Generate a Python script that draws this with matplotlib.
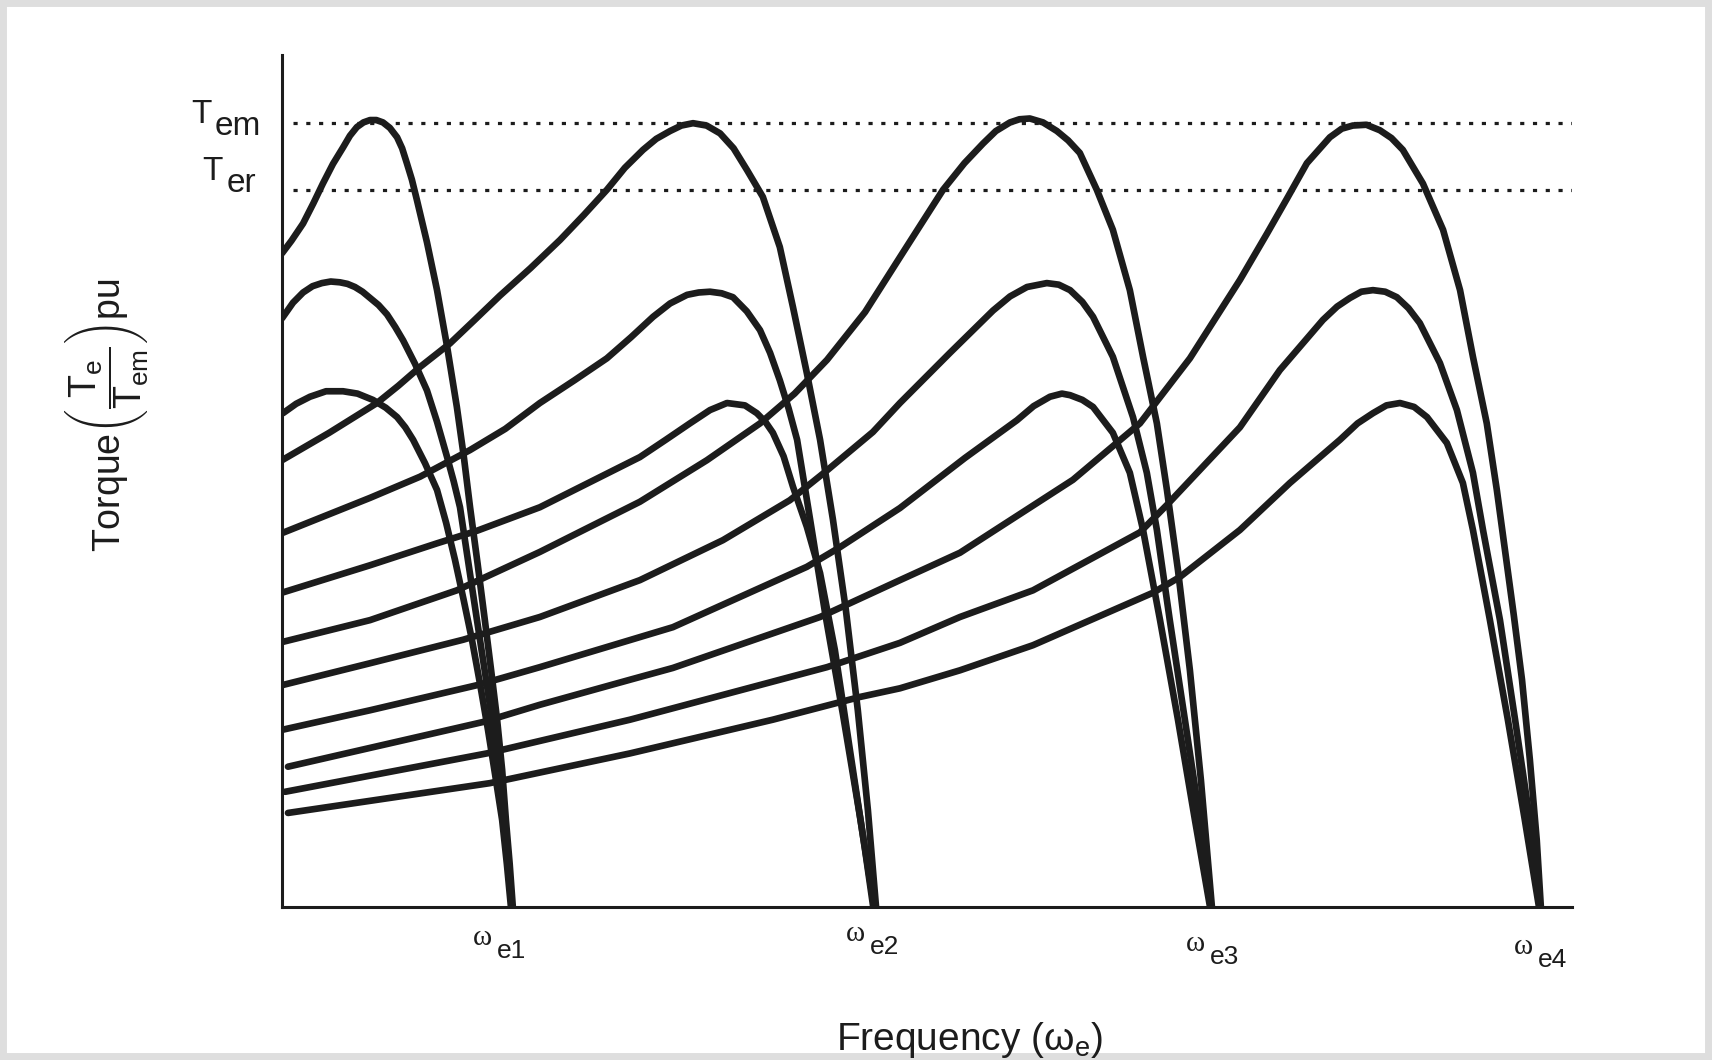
import matplotlib.pyplot as plt
from matplotlib.patches import Rectangle

plt.rcParams['font.family'] = ['Liberation Sans', 'DejaVu Sans']
plt.rcParams['mathtext.fontset'] = 'custom'
plt.rcParams['mathtext.rm'] = 'Liberation Sans'
plt.rcParams['mathtext.it'] = 'Liberation Sans:italic'

# synchronous frequencies (arbitrary frequency units) and torque levels in pu of Tem
omega_e = [0.734, 1.886, 2.957, 4.0]
omega_labels = ['e1', 'e2', 'e3', 'e4']
T_em = 1.0
T_er = 0.915

# family 1 (omega_e1): three curves, highest to lowest
w1_a = [0.0, 0.030, 0.067, 0.100, 0.130, 0.162, 0.194, 0.216, 0.238, 0.259, 0.280, 0.300, 0.321, 0.343, 0.366, 0.382,
        0.397, 0.413, 0.429, 0.461, 0.493, 0.525, 0.556, 0.578, 0.598, 0.622, 0.645, 0.665, 0.684, 0.700, 0.712, 0.724, 0.734]
t1_a = [0.834, 0.850, 0.872, 0.898, 0.923, 0.948, 0.969, 0.984, 0.995, 1.001, 1.004, 1.004, 1.001, 0.994, 0.982, 0.968,
        0.949, 0.928, 0.902, 0.848, 0.787, 0.715, 0.638, 0.575, 0.510, 0.438, 0.366, 0.302, 0.239, 0.175, 0.111, 0.055, 0.0]
w1_b = [0.0, 0.035, 0.067, 0.097, 0.127, 0.155, 0.184, 0.208, 0.232, 0.256, 0.280, 0.307, 0.334, 0.360, 0.385, 0.423,
        0.461, 0.493, 0.525, 0.546, 0.566, 0.593, 0.620, 0.644, 0.668, 0.688, 0.706, 0.720, 0.731]
t1_b = [0.751, 0.771, 0.784, 0.792, 0.796, 0.798, 0.797, 0.795, 0.791, 0.785, 0.777, 0.768, 0.756, 0.740, 0.723, 0.693,
        0.659, 0.619, 0.574, 0.543, 0.510, 0.438, 0.366, 0.303, 0.239, 0.175, 0.111, 0.055, 0.0]
w1_c = [0.003, 0.045, 0.089, 0.140, 0.194, 0.240, 0.289, 0.330, 0.366, 0.392, 0.417, 0.455, 0.493, 0.522, 0.550, 0.577,
        0.604, 0.630, 0.655, 0.678, 0.700, 0.715, 0.728]
t1_c = [0.630, 0.642, 0.651, 0.658, 0.658, 0.655, 0.647, 0.637, 0.625, 0.612, 0.596, 0.566, 0.532, 0.490, 0.443, 0.393,
        0.341, 0.284, 0.226, 0.168, 0.111, 0.055, 0.0]

# family 2 (omega_e2)
w2_a = [0.0, 0.150, 0.302, 0.370, 0.439, 0.534, 0.610, 0.693, 0.790, 0.884, 0.960, 1.033, 1.090, 1.148, 1.190, 1.234,
        1.270, 1.307, 1.350, 1.393, 1.436, 1.479, 1.529, 1.583, 1.625, 1.669, 1.711, 1.752, 1.793, 1.831, 1.863, 1.889]
t2_a = [0.570, 0.605, 0.643, 0.665, 0.689, 0.719, 0.748, 0.780, 0.815, 0.851, 0.883, 0.915, 0.943, 0.966, 0.980, 0.990,
        0.997, 1.0, 0.997, 0.987, 0.968, 0.940, 0.906, 0.842, 0.765, 0.681, 0.596, 0.494, 0.379, 0.251, 0.124, 0.0]
w2_b = [0.0, 0.280, 0.439, 0.598, 0.710, 0.820, 0.930, 1.033, 1.110, 1.180, 1.234, 1.288, 1.325, 1.361, 1.398, 1.434,
        1.478, 1.520, 1.552, 1.583, 1.611, 1.638, 1.679, 1.727, 1.784, 1.838, 1.883]
t2_b = [0.477, 0.522, 0.549, 0.583, 0.610, 0.643, 0.672, 0.700, 0.727, 0.753, 0.770, 0.781, 0.784, 0.785, 0.783, 0.778,
        0.760, 0.736, 0.707, 0.672, 0.636, 0.596, 0.495, 0.375, 0.245, 0.115, 0.0]
w2_c = [0.0, 0.280, 0.493, 0.620, 0.820, 0.979, 1.138, 1.220, 1.297, 1.361, 1.415, 1.472, 1.510, 1.537, 1.561, 1.595,
        1.625, 1.669, 1.711, 1.758, 1.806, 1.854, 1.880]
t2_c = [0.401, 0.436, 0.464, 0.480, 0.510, 0.542, 0.574, 0.596, 0.617, 0.634, 0.643, 0.640, 0.630, 0.619, 0.605, 0.575,
        0.536, 0.485, 0.426, 0.328, 0.200, 0.073, 0.0]

# family 3 (omega_e3)
w3_a = [0.0, 0.280, 0.556, 0.820, 1.138, 1.351, 1.520, 1.630, 1.733, 1.854, 1.965, 2.035, 2.102, 2.170, 2.229, 2.270,
        2.315, 2.345, 2.378, 2.420, 2.464, 2.500, 2.537, 2.591, 2.642, 2.696, 2.738, 2.782, 2.814, 2.849, 2.887, 2.922, 2.957]
t3_a = [0.338, 0.366, 0.404, 0.453, 0.517, 0.570, 0.617, 0.655, 0.698, 0.759, 0.829, 0.873, 0.915, 0.949, 0.974, 0.990,
        1.001, 1.005, 1.006, 1.001, 0.990, 0.978, 0.962, 0.915, 0.864, 0.787, 0.702, 0.617, 0.532, 0.430, 0.302, 0.162, 0.0]
w3_b = [0.0, 0.280, 0.576, 0.820, 1.138, 1.402, 1.615, 1.733, 1.879, 1.965, 2.124, 2.261, 2.315, 2.369, 2.432, 2.470,
        2.506, 2.545, 2.579, 2.642, 2.706, 2.750, 2.782, 2.823, 2.871, 2.919, 2.954]
t3_b = [0.283, 0.311, 0.341, 0.370, 0.417, 0.468, 0.519, 0.557, 0.606, 0.643, 0.707, 0.761, 0.779, 0.791, 0.796, 0.794,
        0.787, 0.772, 0.753, 0.702, 0.625, 0.554, 0.481, 0.366, 0.239, 0.111, 0.0]
w3_c = [0.0, 0.280, 0.620, 0.820, 1.243, 1.669, 1.774, 1.965, 2.172, 2.337, 2.390, 2.442, 2.480, 2.506, 2.545, 2.579,
        2.642, 2.696, 2.738, 2.792, 2.849, 2.903, 2.951]
t3_c = [0.226, 0.251, 0.283, 0.306, 0.357, 0.434, 0.459, 0.509, 0.573, 0.621, 0.639, 0.651, 0.655, 0.653, 0.647, 0.638,
        0.605, 0.554, 0.481, 0.366, 0.239, 0.111, 0.0]

# family 4 (omega_e4)
w4_a = [0.019, 0.639, 0.820, 1.107, 1.243, 1.711, 1.965, 2.156, 2.515, 2.728, 2.887, 3.046, 3.132, 3.196, 3.259, 3.332,
        3.370, 3.405, 3.448, 3.491, 3.528, 3.564, 3.628, 3.692, 3.746, 3.787, 3.831, 3.863, 3.889, 3.917, 3.943, 3.968,
        3.990, 4.003]
t4_a = [0.179, 0.236, 0.258, 0.290, 0.305, 0.370, 0.417, 0.452, 0.545, 0.617, 0.700, 0.800, 0.859, 0.904, 0.949, 0.982,
        0.993, 0.997, 0.998, 0.991, 0.981, 0.966, 0.923, 0.864, 0.787, 0.702, 0.617, 0.532, 0.455, 0.372, 0.290, 0.188,
        0.085, 0.0]
w4_b = [0.010, 0.652, 1.107, 1.733, 1.965, 2.156, 2.388, 2.728, 2.814, 3.046, 3.173, 3.310, 3.355, 3.396, 3.432, 3.469,
        3.508, 3.545, 3.582, 3.618, 3.682, 3.736, 3.787, 3.819, 3.873, 3.921, 3.968, 4.0]
t4_b = [0.147, 0.196, 0.239, 0.306, 0.337, 0.370, 0.404, 0.478, 0.513, 0.612, 0.685, 0.749, 0.766, 0.777, 0.785, 0.787,
        0.785, 0.778, 0.764, 0.745, 0.694, 0.634, 0.554, 0.481, 0.366, 0.239, 0.111, 0.0]
w4_c = [0.019, 0.661, 1.107, 1.561, 1.838, 1.965, 2.156, 2.388, 2.770, 2.855, 3.046, 3.205, 3.364, 3.420, 3.469, 3.512,
        3.555, 3.600, 3.641, 3.704, 3.755, 3.787, 3.841, 3.898, 3.952, 3.997]
t4_c = [0.120, 0.158, 0.196, 0.239, 0.268, 0.279, 0.302, 0.334, 0.401, 0.421, 0.481, 0.541, 0.596, 0.617, 0.630, 0.640,
        0.643, 0.638, 0.625, 0.592, 0.541, 0.481, 0.366, 0.239, 0.111, 0.0]

curvas = [(w1_a, t1_a), (w1_b, t1_b), (w1_c, t1_c),
          (w2_a, t2_a), (w2_b, t2_b), (w2_c, t2_c),
          (w3_a, t3_a), (w3_b, t3_b), (w3_c, t3_c),
          (w4_a, t4_a), (w4_b, t4_b), (w4_c, t4_c)]

ink = '#1c1c1c'

fig = plt.figure(figsize=(17.12, 10.6), dpi=100)
ax = fig.add_axes([282 / 1712, 153 / 1060, 1290 / 1712, 852 / 1060])

for w, t in curvas:
    ax.plot(w, t, color=ink, lw=4.8, solid_joinstyle='round', solid_capstyle='round')

# Tem and Ter reference lines
for nivel in (T_em, T_er):
    ax.axhline(nivel, xmin=0.0085, xmax=1.0, color=ink, lw=2.3, ls=(0, (1.3, 2.7)))

ax.set_xlim(0, 4.102)
ax.set_ylim(0, 1.087)
ax.set_xticks([])
ax.set_yticks([])
for lado in ['top', 'right']:
    ax.spines[lado].set_visible(False)
for lado in ['left', 'bottom']:
    ax.spines[lado].set_linewidth(2.2)
    ax.spines[lado].set_color(ink)

# omega_e labels under the axis
label_dx = [-16, -5, -2, -2]
label_dy = [-51, -47, -57, -60]
for w, lab, dx, dy in zip(omega_e, omega_labels, label_dx, label_dy):
    ax.annotate(lab, xy=(w, 0), xytext=(dx, dy), textcoords='offset pixels',
                ha='left', va='baseline', fontsize=19, color=ink, annotation_clip=False)
    ax.annotate('ω', xy=(w, 0), xytext=(dx - 5, dy + 13), textcoords='offset pixels',
                ha='right', va='baseline', fontsize=21, color=ink,
                family=['Liberation Serif', 'DejaVu Serif'], annotation_clip=False)

# Tem / Ter labels left of the axis
ax.annotate('T', xy=(0, T_em), xytext=(-91, 0), textcoords='offset pixels',
            ha='left', va='baseline', fontsize=24, color=ink, annotation_clip=False)
ax.annotate('em', xy=(0, T_em), xytext=(-67, -12), textcoords='offset pixels',
            ha='left', va='baseline', fontsize=24, color=ink, annotation_clip=False)
ax.annotate('T', xy=(0, T_er), xytext=(-80, 10), textcoords='offset pixels',
            ha='left', va='baseline', fontsize=24, color=ink, annotation_clip=False)
ax.annotate('er', xy=(0, T_er), xytext=(-55, -2), textcoords='offset pixels',
            ha='left', va='baseline', fontsize=24, color=ink, annotation_clip=False)

fig.text(0.566, 1 - 1050 / 1060, r'Frequency $\mathregular{(ω_e)}$', ha='center',
         va='baseline', fontsize=28, color=ink)
fig.text(0.062, 1 - 415 / 1060,
         r'Torque$\left(\dfrac{\mathrm{T_e}}{\mathrm{T_{em}}}\right)$pu',
         rotation=90, ha='center', va='center', fontsize=27, color=ink)

# scanned page border
fig.patches.append(Rectangle((0, 0), 1, 1, transform=fig.transFigure, fill=False,
                             edgecolor='#dedede', linewidth=10))

fig.savefig('out.png', dpi=100)
